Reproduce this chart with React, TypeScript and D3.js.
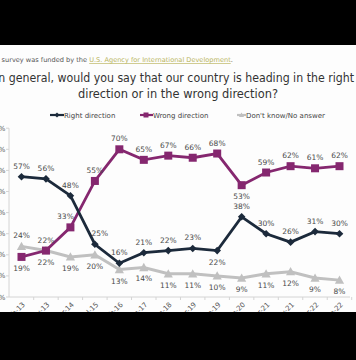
import React from "react";
import * as d3 from "d3";

const categories = ["Feb-13","Nov-13","Apr-14","Jul-15","Feb-16","Jun-17","Jun-18","Apr-19","Sep-19","Jun-20","Mar-21","Nov-21","Mar-22","Sep-22"];
const rightDirection = [57,56,48,25,16,21,22,23,22,38,30,26,31,30];
const wrongDirection = [19,22,33,55,70,65,67,66,68,53,59,62,61,62];
const dontKnow = [24,22,19,20,13,14,11,11,10,9,11,12,9,8];
const yTicks = [0,10,20,30,40,50,60,70,80];
const seriesNames = ["Right direction","Wrong direction","Don't know/No answer"];

// label placement: 1 = above, -1 = below
const rightPlace = [1,1,1,1,1,1,1,1,-1,1,1,1,1,1];
const wrongPlace = [-1,1,1,1,1,1,1,1,1,-1,1,1,1,1];
const dkPlace = [1,-1,-1,-1,-1,-1,-1,-1,-1,-1,-1,-1,-1,-1];

const W = 356, H = 360;
const C_RIGHT = "#1c2a3b";
const C_WRONG = "#85276f";
const C_DK = "#c0c0c0";
const FONT = "'DejaVu Sans', Verdana, sans-serif";

export default function App() {
  const x = d3.scalePoint<string>().domain(categories).range([21.5, 339.5]);
  const y = d3.scaleLinear().domain([0, 80]).range([297, 128.2]);
  const line = d3.line<number>().x((_, i) => x(categories[i])!).y(d => y(d));

  const diamond = (cx: number, cy: number, r = 3.8) => `M${cx},${cy - r}L${cx + r},${cy}L${cx},${cy + r}L${cx - r},${cy}Z`;
  const tri = (cx: number, cy: number, r = 4.6) => `M${cx},${cy - r}L${cx + r},${cy + r * 0.8}L${cx - r},${cy + r * 0.8}Z`;

  const labels = (vals: number[], place: number[], key: string, dxs?: number[]) =>
    vals.map((v, i) => (
      <text key={key + i} x={x(categories[i])! + (dxs ? dxs[i] : 0)} y={y(v) + (place[i] > 0 ? -8 : 14)}
        textAnchor="middle" fontSize={7.5} fill="#4a4a4a" fontFamily={FONT}>{v}%</text>
    ));

  const wrongDx = [0,0,-5,0,0,0,0,0,0,0,0,0,0,0];
  const rightDx = [0,0,0,5,0,0,0,0,0,0,0,0,0,0];

  return (
    <svg width={W} height={H} style={{ position: "absolute", left: 0, top: 0, background: "#fff" }}>
      <rect x={0} y={0} width={W} height={H} fill="#fdfdfd" />
      {/* footnote */}
      <text x={-14} y={62} fontSize={6.6} fill="#555" fontFamily={FONT}>
        This survey was funded by the{" "}
        <tspan fill="#b9b45c" textDecoration="underline">U.S. Agency for International Development</tspan>.
      </text>
      {/* title */}
      <text x={-5} y={82} fontSize={12.5} fill="#333" fontFamily={FONT} textLength={359} lengthAdjust="spacingAndGlyphs">
        In general, would you say that our country is heading in the right
      </text>
      <text x={78} y={98} fontSize={12.5} fill="#333" fontFamily={FONT} textLength={200} lengthAdjust="spacingAndGlyphs">
        direction or in the wrong direction?
      </text>
      {/* legend */}
      <g fontFamily={FONT} fontSize={7} fill="#444">
        <line x1={50} x2={64} y1={115} y2={115} stroke={C_RIGHT} strokeWidth={2.2} />
        <path d={diamond(57, 115, 2.6)} fill={C_RIGHT} />
        <text x={64} y={117.5}>{seriesNames[0]}</text>
        <line x1={140} x2={153} y1={115} y2={115} stroke={C_WRONG} strokeWidth={2.2} />
        <rect x={143.5} y={112.5} width={5} height={5} fill={C_WRONG} />
        <text x={153} y={117.5}>{seriesNames[1]}</text>
        <line x1={237} x2={246} y1={115} y2={115} stroke={C_DK} strokeWidth={2.2} />
        <path d={tri(241.5, 115, 2.6)} fill={C_DK} />
        <text x={246} y={117.5}>{seriesNames[2]}</text>
      </g>
      {/* axes */}
      <line x1={9} x2={9} y1={y(80)} y2={y(0)} stroke="#d4d4d4" strokeWidth={1} />
      <line x1={9} x2={350} y1={y(0)} y2={y(0)} stroke="#d4d4d4" strokeWidth={1} />
      {yTicks.map(t => (
        <g key={"yt" + t}>
          <line x1={6} x2={9} y1={y(t)} y2={y(t)} stroke="#d4d4d4" />
          <text x={5.5} y={y(t) + 2.5} textAnchor="end" fontSize={7} fill="#555" fontFamily={FONT}>{t}%</text>
        </g>
      ))}
      {categories.map((c, i) => (
        <g key={"xt" + c + i}>
          <line x1={x(c)! + 12.2} x2={x(c)! + 12.2} y1={y(0)} y2={y(0) + 3} stroke="#d4d4d4" />
          <text transform={`translate(${x(c)! + 4},${y(0) + 8}) rotate(-45)`} textAnchor="end"
            fontSize={7} fill="#555" fontFamily={FONT}>{c}</text>
        </g>
      ))}
      {/* series */}
      <path d={line(dontKnow)!} fill="none" stroke={C_DK} strokeWidth={3} />
      {dontKnow.map((v, i) => <path key={"dkm" + i} d={tri(x(categories[i])!, y(v))} fill={C_DK} />)}
      <path d={line(wrongDirection)!} fill="none" stroke={C_WRONG} strokeWidth={2.8} />
      {wrongDirection.map((v, i) => <rect key={"wm" + i} x={x(categories[i])! - 4} y={y(v) - 4} width={8} height={8} fill={C_WRONG} />)}
      <path d={line(rightDirection)!} fill="none" stroke={C_RIGHT} strokeWidth={2.8} />
      {rightDirection.map((v, i) => <path key={"rm" + i} d={diamond(x(categories[i])!, y(v))} fill={C_RIGHT} />)}
      {labels(dontKnow, dkPlace, "dl")}
      {labels(wrongDirection, wrongPlace, "wl", wrongDx)}
      {labels(rightDirection, rightPlace, "rl", rightDx)}
      {/* letterbox bars */}
      <rect x={0} y={0} width={W} height={45} fill="#000" />
      <rect x={0} y={312} width={W} height={48} fill="#000" />
    </svg>
  );
}
